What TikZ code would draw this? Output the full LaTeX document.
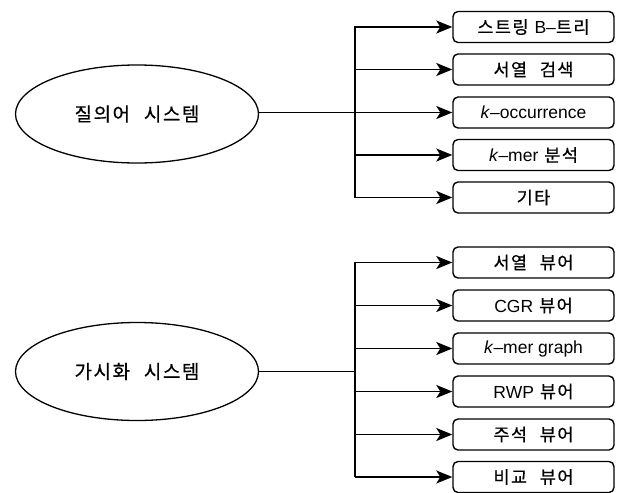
\documentclass[tikz,border=0pt]{standalone}
\usepackage{fontspec}
\setmainfont{Liberation Sans}
\newfontfamily\kr{Noto Sans CJK KR}[WordSpace=2.4,LetterSpace=8,FakeBold=0.6]
\usetikzlibrary{arrows.meta,shapes.geometric}
\newcommand{\wsp}{\hspace{6pt}}
\begin{document}
\begin{tikzpicture}[x=1pt,y=-1pt,
  sysnode/.style={draw,line width=1.3pt,ellipse,minimum width=243pt,minimum height=98pt,inner sep=0pt,font=\fontsize{19}{21}\selectfont\kr},
  itembox/.style={draw,line width=1.4pt,rounded corners=5pt,minimum width=161pt,minimum height=31pt,inner sep=0pt,font=\fontsize{17.5}{19}\selectfont},
  conn/.style={line width=1.6pt},
  arr/.style={conn,-{Stealth[length=16pt,width=13pt,inset=4pt]}}]
\useasboundingbox (0,0) rectangle (619,493);
% top group
\node[sysnode] (q) at (137,114) {질의어 시스템};
\node[itembox] (q1) at (533.5,27) {{\kr 스트링}\wsp B--{\kr 트리}};
\node[itembox] (q2) at (533.5,69.5) {\kr 서열 검색};
\node[itembox] (q3) at (533.5,112.5) {\textit{k}--occurrence};
\node[itembox] (q4) at (533.5,155) {\textit{k}--mer\wsp{\kr 분석}};
\node[itembox] (q5) at (533.5,197.5) {\kr 기타};
\coordinate (qt) at (355,112.5);
\draw[arr] (q.east |- q3.west) -- (q3.west);
\draw[arr] (qt |- q5.west) -- (qt |- q1.west) -- (q1.west);
\draw[arr] (qt |- q2.west) -- (q2.west);
\draw[arr] (qt |- q4.west) -- (q4.west);
\draw[arr] (qt |- q5.west) -- (q5.west);
% bottom group
\node[sysnode] (v) at (137,371.5) {가시화 시스템};
\node[itembox] (v1) at (533.5,262.5) {\kr 서열 뷰어};
\node[itembox] (v2) at (533.5,305.5) {CGR\wsp{\kr 뷰어}};
\node[itembox] (v3) at (533.5,348.5) {\textit{k}--mer graph};
\node[itembox] (v4) at (533.5,391.5) {RWP\wsp{\kr 뷰어}};
\node[itembox] (v5) at (533.5,434.5) {\kr 주석 뷰어};
\node[itembox] (v6) at (533.5,477) {\kr 비교 뷰어};
\coordinate (vt) at (355,371.5);
\draw[conn] (v.east) -- (vt);
\draw[arr] (vt |- v6.west) -- (vt |- v1.west) -- (v1.west);
\draw[arr] (vt |- v2.west) -- (v2.west);
\draw[arr] (vt |- v3.west) -- (v3.west);
\draw[arr] (vt |- v4.west) -- (v4.west);
\draw[arr] (vt |- v5.west) -- (v5.west);
\draw[arr] (vt |- v6.west) -- (v6.west);
\end{tikzpicture}
\end{document}
